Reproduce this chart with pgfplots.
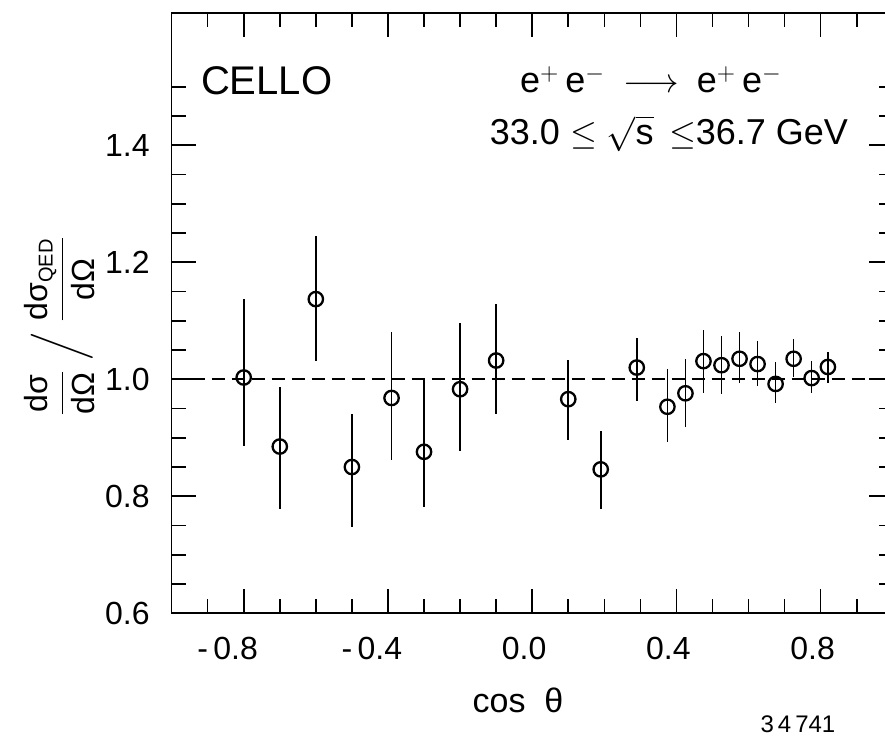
\documentclass[border=0pt]{standalone}
\usepackage{amsmath}
\usepackage{pgfplots}
\usepackage{pgfplotstable}
\pgfplotsset{compat=1.18}
\usepackage{fontspec}
\setmainfont{Liberation Sans}

\pgfplotstableread{
x y ep em
-0.80 1.003 0.134 0.117
-0.70 0.885 0.101 0.107
-0.60 1.137 0.108 0.106
-0.50 0.850 0.091 0.102
-0.39 0.968 0.113 0.106
-0.30 0.876 0.123 0.094
-0.20 0.983 0.114 0.106
-0.10 1.032 0.096 0.092
0.10 0.966 0.067 0.070
0.19 0.846 0.066 0.067
0.29 1.020 0.051 0.057
0.375 0.953 0.065 0.061
0.425 0.976 0.058 0.057
0.475 1.031 0.053 0.054
0.525 1.024 0.050 0.049
0.575 1.035 0.045 0.041
0.625 1.026 0.040 0.037
0.675 0.992 0.038 0.032
0.725 1.035 0.033 0.031
0.775 1.002 0.030 0.026
0.82 1.021 0.026 0.027
}\datatable

\begin{document}
\begin{tikzpicture}
\useasboundingbox (-85.8pt,-62.35pt) rectangle (356.7pt,306.65pt);
\begin{axis}[
  at={(0pt,0pt)}, anchor=south west,
  scale only axis, width=360.6pt, height=300.15pt,
  xmin=-1, xmax=1, ymin=0.6, ymax=1.626,
  clip=false,
  axis line style={line width=0.8pt},
  tick style={line width=0.8pt, black},
  tick align=inside,
  major tick length=12pt, minor tick length=7pt,
  xtick={-0.8,-0.4,0,0.4,0.8},
  xticklabels={\llap{-\,}0.8,\llap{-\,}0.4,0.0,0.4,0.8},
  minor xtick={-0.9,-0.7,-0.6,-0.5,-0.3,-0.2,-0.1,0.1,0.2,0.3,0.5,0.6,0.7,0.9},
  ytick={0.6,0.8,1.0,1.2,1.4},
  yticklabels={0.6,0.8,1.0,1.2,1.4},
  minor ytick={0.65,0.7,0.75,0.85,0.9,0.95,1.05,1.1,1.15,1.25,1.3,1.35,1.45,1.5},
  xticklabel style={font=\fontsize{16}{19}\selectfont, inner sep=0pt, anchor=base, yshift=-23.35pt, xshift=-4pt},
  yticklabel style={font=\fontsize{16}{19}\selectfont, inner sep=0pt, anchor=east, xshift=-10.8pt},
]
\addplot[black, line width=0.85pt, dash pattern=on 6.5pt off 3.5pt, forget plot] coordinates {(-1,1) (1,1)};
\addplot[black, only marks, mark=o, mark size=3.6pt,
  mark options={fill=white, line width=1.15pt, solid},
  error bars/.cd, y dir=both, y explicit, error mark=none,
  error bar style={line width=0.8pt, black}]
  table[x=x, y=y, y error plus=ep, y error minus=em] {\datatable};
\end{axis}
\node[anchor=base, inner sep=0pt, font=\fontsize{20}{24}\selectfont] at (47.5pt,259.15pt) {CELLO};
\node[anchor=base, inner sep=0pt, font=\fontsize{18}{22}\selectfont] at (239.7pt,260.15pt) {e$^{+}$\,e$^{-}$\enspace$\longrightarrow$\enspace e$^{+}$\,e$^{-}$};
\node[anchor=base, inner sep=0pt, font=\fontsize{18}{22}\selectfont] at (248.7pt,234.15pt) {33.0 $\leq$ $\sqrt{\mbox{s}}\,\leq$36.7 GeV};
\node[anchor=base, inner sep=0pt, font=\fontsize{17}{20}\selectfont] at (173.2pt,-49.85pt) {cos\ \ θ};
\node[anchor=base, inner sep=0pt, font=\fontsize{12}{14}\selectfont] at (313.2pt,-59.5pt) {3\,4\,741};
\node[rotate=90, anchor=center, inner sep=0pt, font=\fontsize{16}{19}\selectfont] at (-56pt,143.5pt)
  {$\dfrac{\mbox{dσ}}{\mbox{dΩ}}\;\Big/\;\dfrac{\mbox{dσ}_{\mbox{\fontsize{10}{12}\selectfont QED}}}{\mbox{dΩ}}$};
\end{tikzpicture}
\end{document}
